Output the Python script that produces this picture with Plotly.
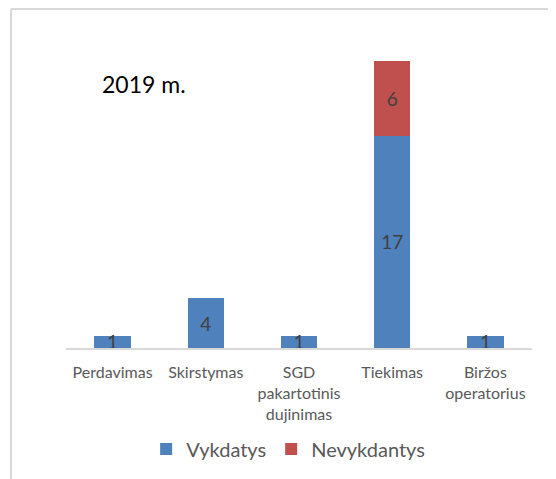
import plotly.graph_objects as go

categories = ["Perdavimas", "Skirstymas", "SGD<br>pakartotinis<br>dujinimas", "Tiekimas", "Biržos<br>operatorius"]
vykdatys = [1, 4, 1, 17, 1]
nevykdantys = [None, None, None, 6, None]
year_label = "2019 m."

BLUE = "#4f81bd"
RED = "#c0504d"
FONT = "Lato, 'Open Sans', sans-serif"

fig = go.Figure()
fig.add_trace(go.Bar(
    x=categories, y=vykdatys, name="Vykdatys",
    marker=dict(color=BLUE, line=dict(width=0)),
    text=[str(v) for v in vykdatys], textposition="inside",
    insidetextanchor="middle", constraintext="none", textangle=0,
    textfont=dict(color="#404040", size=19, family=FONT),
))
fig.add_trace(go.Bar(
    x=categories, y=nevykdantys, name="Nevykdantys",
    marker=dict(color=RED, line=dict(width=0)),
    text=["" if v is None else str(v) for v in nevykdantys], textposition="inside",
    insidetextanchor="middle", constraintext="none", textangle=0,
    textfont=dict(color="#404040", size=19, family=FONT),
))

fig.update_layout(
    width=548, height=471,
    barmode="stack", bargap=0.61,
    paper_bgcolor="white", plot_bgcolor="white",
    margin=dict(l=58, r=24, t=2, b=131, autoexpand=False),
    font=dict(family=FONT, color="#595959"),
    showlegend=True,
    legend=dict(orientation="h", x=0.172, xanchor="left", y=-0.299, yanchor="middle",
                font=dict(size=20, color="#595959", family=FONT),
                itemwidth=30, traceorder="normal", itemclick=False),
    xaxis=dict(showline=True, linecolor="#d9d9d9", linewidth=2, showgrid=False,
               ticks="", ticklabelstandoff=9,
               tickfont=dict(size=16, color="#595959", family=FONT),
               zeroline=False, fixedrange=True),
    yaxis=dict(visible=False, range=[0, 27.1], showgrid=False, zeroline=False, fixedrange=True),
    annotations=[dict(text=year_label, xref="paper", yref="paper", x=0.167, y=0.781,
                      showarrow=False, font=dict(size=23, color="black", family=FONT),
                      xanchor="center", yanchor="middle")],
    shapes=[
        dict(type="line", xref="paper", yref="paper", x0=-0.118, x1=1.1, y0=1.003, y1=1.003,
             line=dict(color="#d9d9d9", width=2)),
        dict(type="line", xref="paper", yref="paper", x0=-0.118, x1=-0.118, y0=-0.5, y1=1.003,
             line=dict(color="#d9d9d9", width=2)),
    ],
)

fig.write_html("out.html", config={"displayModeBar": False})
